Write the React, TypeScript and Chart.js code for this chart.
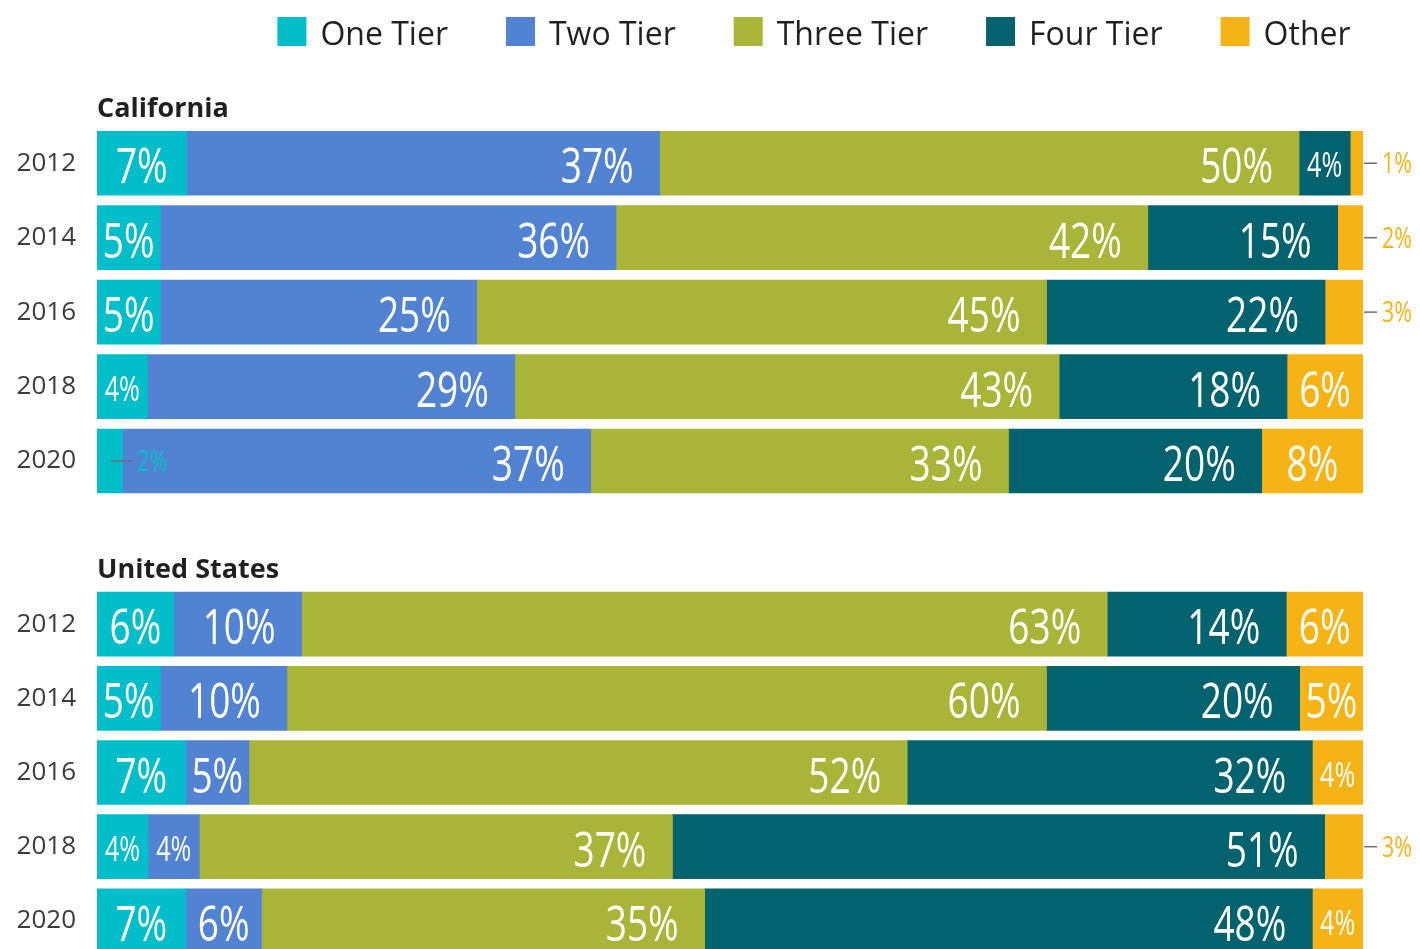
import React, { useEffect, useRef } from 'react';
import { Chart, registerables } from 'chart.js';

Chart.register(...registerables);

// ---- data ----
const years = ['2012', '2014', '2016', '2018', '2020'];
const seriesNames = ['One Tier', 'Two Tier', 'Three Tier', 'Four Tier', 'Other'];
const seriesColors = ['#00BDCA', '#5283D3', '#A9B538', '#02636E', '#F5B316'];
const regionTitles = ['California', 'United States'];

const caOne = [7, 5, 5, 4, 2];
const caTwo = [37, 36, 25, 29, 37];
const caThree = [50, 42, 45, 43, 33];
const caFour = [4, 15, 22, 18, 20];
const caOther = [1, 2, 3, 6, 8];

const usOne = [6, 5, 7, 4, 7];
const usTwo = [10, 10, 5, 4, 6];
const usThree = [63, 60, 52, 37, 35];
const usFour = [14, 20, 32, 51, 48];
const usOther = [6, 5, 4, 3, 4];

const FONT = '"Open Sans", "Noto Sans", sans-serif';
const SX = 0.74; // horizontal condense factor for value labels

function makePlugin(raw: number[][], title: string, showLegend: boolean) {
  return {
    id: 'segLabels',
    afterDatasetsDraw(chart: any) {
      const ctx = chart.ctx as CanvasRenderingContext2D;
      const nds = chart.data.datasets.length;
      chart.data.datasets.forEach((ds: any, di: number) => {
        const meta = chart.getDatasetMeta(di);
        meta.data.forEach((el: any, i: number) => {
          const v = raw[di][i];
          const p = el.getProps(['x', 'base', 'y'], true);
          const left = Math.min(p.x, p.base);
          const right = Math.max(p.x, p.base);
          const w = right - left;
          const y = p.y;
          const txt = v + '%';
          ctx.save();
          ctx.textAlign = 'left';
          ctx.textBaseline = 'alphabetic';
          if (v >= 4) {
            const size = v >= 5 ? 50 : 34;
            ctx.font = `${size}px ${FONT}`;
            const tw = ctx.measureText(txt).width * SX;
            const tx = w - tw < 52 ? left + (w - tw) / 2 : right - 26 - tw;
            ctx.translate(tx, y + (v >= 5 ? 20 : 14));
            ctx.scale(SX, 1);
            ctx.fillStyle = '#ffffff';
            ctx.fillText(txt, 0, 0);
          } else {
            const last = di === nds - 1;
            const x0 = last ? right + 1 : right - 11;
            const x1 = last ? right + 14 : right + 10;
            ctx.strokeStyle = '#6d6e71';
            ctx.lineWidth = 1.5;
            ctx.beginPath();
            ctx.moveTo(x0, y);
            ctx.lineTo(x1, y);
            ctx.stroke();
            ctx.font = `29px ${FONT}`;
            ctx.fillStyle = ds.backgroundColor;
            ctx.translate(x1 + 5, y + 10);
            ctx.scale(SX, 1);
            ctx.fillText(txt, 0, 0);
          }
          ctx.restore();
        });
      });
    },
    afterDraw(chart: any) {
      const ctx = chart.ctx as CanvasRenderingContext2D;
      const area = chart.chartArea;
      ctx.save();
      // group title
      ctx.font = `bold 27px ${FONT}`;
      ctx.fillStyle = '#231f20';
      ctx.textAlign = 'left';
      ctx.textBaseline = 'alphabetic';
      ctx.fillText(title, area.left, area.top - 9);
      // legend
      if (showLegend) {
        ctx.font = `32px ${FONT}`;
        const box = 29;
        const gapText = 14;
        const gapItem = 58;
        const widths = seriesNames.map((n) => box + gapText + ctx.measureText(n).width);
        const total = widths.reduce((a, b) => a + b, 0) + gapItem * (seriesNames.length - 1);
        let cx = 814 - total / 2;
        seriesNames.forEach((n, k) => {
          ctx.fillStyle = seriesColors[k];
          ctx.fillRect(cx, 17, box, box);
          ctx.fillStyle = '#231f20';
          ctx.fillText(n, cx + box + gapText, 45);
          cx += widths[k] + gapItem;
        });
      }
      ctx.restore();
    },
  };
}

function buildConfig(raw: number[][], title: string, showLegend: boolean, padTop: number, padBottom: number) {
  const sums = years.map((_, i) => raw.reduce((s, r) => s + r[i], 0));
  const datasets = raw.map((r, di) => ({
    label: seriesNames[di],
    data: r.map((v, i) => (v / sums[i]) * 100),
    backgroundColor: seriesColors[di],
    borderWidth: 0,
    barThickness: 64,
  }));
  return {
    type: 'bar' as const,
    data: { labels: years, datasets },
    options: {
      indexAxis: 'y' as const,
      responsive: false,
      animation: false as const,
      devicePixelRatio: 1,
      layout: { padding: { top: padTop, bottom: padBottom, left: 0, right: 57 } },
      plugins: {
        legend: { display: false },
        tooltip: { enabled: false },
        title: { display: false },
      },
      scales: {
        x: { stacked: true, min: 0, max: 100, display: false },
        y: {
          stacked: true,
          grid: { display: false, drawTicks: false },
          border: { display: false },
          ticks: { color: '#3b3b3b', font: { family: FONT, size: 26 }, padding: 21 },
          afterFit: (s: any) => {
            s.width = 97;
            s.paddingTop = 0;
            s.paddingBottom = 0;
          },
        },
      },
    },
    plugins: [makePlugin(raw, title, showLegend)],
  };
}

export default function App() {
  const ref1 = useRef<HTMLCanvasElement>(null);
  const ref2 = useRef<HTMLCanvasElement>(null);

  useEffect(() => {
    document.body.style.margin = '0';
    document.body.style.overflow = 'hidden';
    const c1 = new Chart(
      ref1.current as HTMLCanvasElement,
      buildConfig([caOne, caTwo, caThree, caFour, caOther], regionTitles[0], true, 126, 1.75) as any
    );
    const c2 = new Chart(
      ref2.current as HTMLCanvasElement,
      buildConfig([usOne, usTwo, usThree, usFour, usOther], regionTitles[1], false, 87, 1) as any
    );
    return () => {
      c1.destroy();
      c2.destroy();
    };
  }, []);

  return (
    <div style={{ position: 'relative', width: 1420, height: 949, overflow: 'hidden', background: '#ffffff' }}>
      <canvas
        ref={ref1}
        width={1420}
        height={500}
        style={{ position: 'absolute', left: 0, top: 0, width: 1420, height: 500 }}
      />
      <canvas
        ref={ref2}
        width={1420}
        height={459}
        style={{ position: 'absolute', left: 0, top: 500, width: 1420, height: 459 }}
      />
    </div>
  );
}
